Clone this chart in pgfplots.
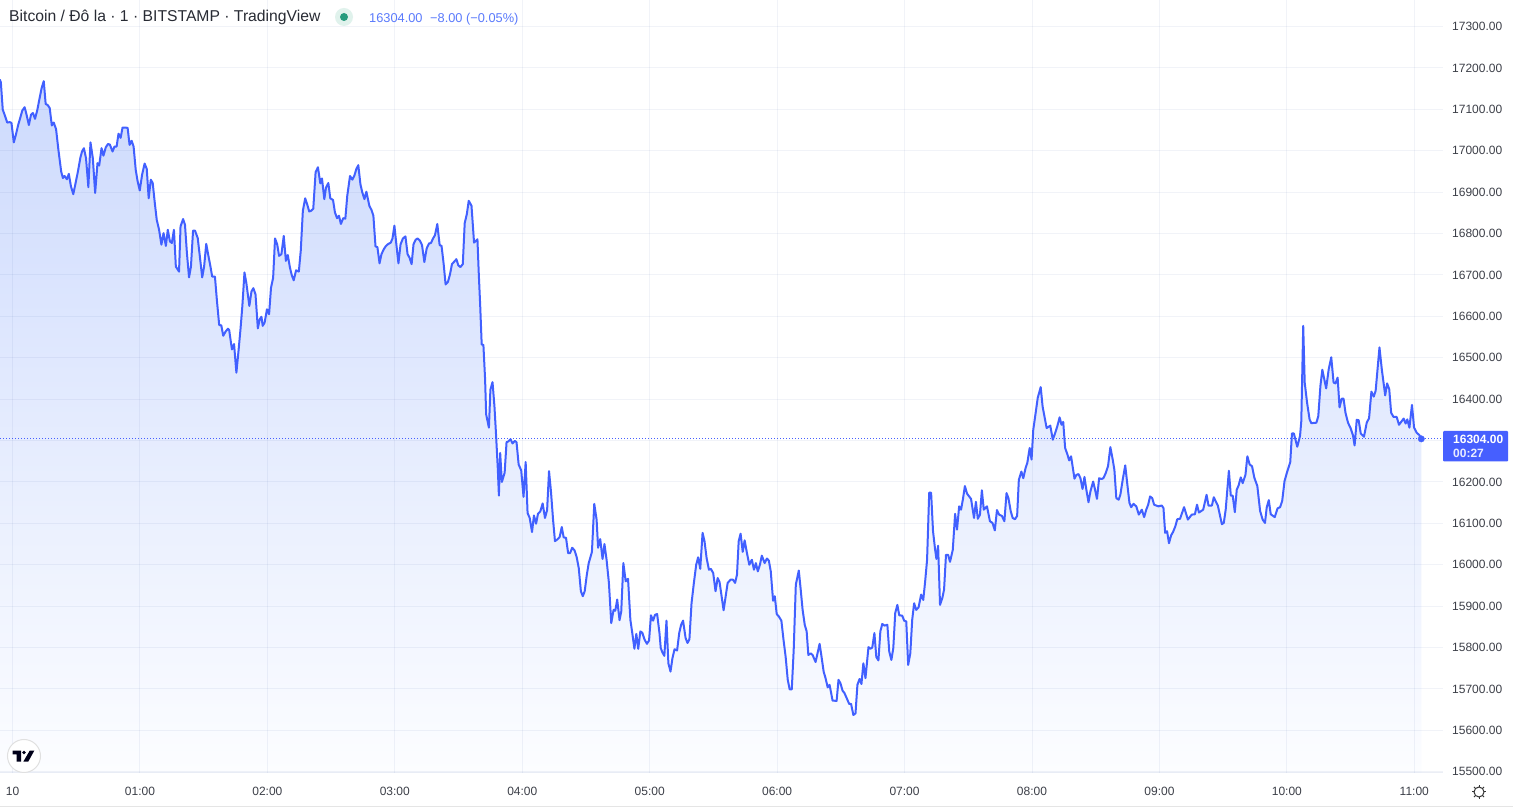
\documentclass[border=0pt]{standalone}
\usepackage{fontspec}
\usepackage{pgfplots}
\usepackage{pgfplotstable}
\pgfplotsset{compat=1.18}
\setmainfont{Liberation Sans}
\definecolor{tvline}{RGB}{65,96,255}
\definecolor{tvtop}{RGB}{205,218,253}
\definecolor{tvbot}{RGB}{252,253,255}
\definecolor{tvgrid}{RGB}{60,90,160}
\definecolor{tvtext}{RGB}{60,63,72}
\definecolor{tvtitle}{RGB}{40,43,52}
\definecolor{tvlabel}{RGB}{70,95,255}
\definecolor{tvval}{RGB}{90,122,252}
\definecolor{tvgreen}{RGB}{38,155,125}
\definecolor{tvhalo}{RGB}{224,242,236}
\pgfplotstableread{
min price
-6 17172
-5.5 17165
-4.6 17099
-3.6 17085
-2.5 17068
-1.3 17069
-.5 17067
.6 17020
1.6 17039
2.7 17063
3.5 17077
4.6 17097
5.7 17105
6.6 17087
7.7 17062
8.7 17087
9.6 17091
10.6 17077
11.7 17099
12.6 17123
13.7 17151
14.7 17168
15.6 17113
16.6 17110
17.5 17103
18.5 17061
19.4 17068
20.5 17052
21.6 17002
22.9 16950
23.7 16934
24.5 16939
25.6 16931
26.5 16944
27.5 16914
28.6 16895
29.7 16922
30.8 16950
31.9 16982
32.7 16998
33.6 17006
34.6 16982
35.7 16912
36.7 17020
37.8 16982
38.9 16898
40 16970
40.8 16964
41.9 17006
42.8 16988
43.9 17008
44.9 17016
45.8 17015
47.1 16998
48 17010
49 17010
49.9 17041
50.9 17031
51.8 17056
52.9 17056
54.2 17055
55.1 17014
56.1 17024
57 17010
58 16954
58.9 16926
59.9 16904
61 16942
62.2 16969
63.2 16956
64.1 16885
65.1 16930
66 16922
67 16873
67.9 16833
69 16809
70.1 16773
71.1 16801
72.2 16770
73.1 16809
74.1 16781
75 16777
76 16809
76.9 16720
78.4 16708
79.1 16817
80.3 16835
81.2 16821
82.1 16753
83.1 16694
84 16720
85 16807
85.9 16807
87.2 16789
88.3 16740
89.3 16694
90.2 16720
91.2 16775
92.3 16744
93.2 16720
94 16696
95.3 16696
96.2 16640
97.3 16579
98.3 16578
99.2 16553
100.3 16563
101.4 16570
102 16567
103.3 16520
104.3 16533
105.4 16464
106.3 16511
107.3 16567
108.2 16624
109.2 16706
110.1 16680
111.5 16625
112.5 16660
113.4 16668
114.4 16653
115.5 16571
116.4 16593
117.2 16599
117.8 16577
118.7 16585
119.8 16617
120.8 16605
121.7 16669
122.7 16693
123.6 16788
124.6 16774
125.5 16746
126.6 16750
127.7 16794
128.7 16734
129.6 16748
130.6 16718
131.5 16699
132.4 16687
133.5 16711
134.8 16708
135.7 16758
136.7 16855
137.8 16885
138.7 16871
139.7 16853
140.6 16855
141.6 16860
142.7 16948
143.8 16960
144.9 16921
145.7 16933
146.8 16883
147.6 16911
148.7 16922
149.6 16885
150.9 16881
151.8 16851
152.8 16837
153.7 16843
154.6 16823
155.7 16837
156.7 16836
157.6 16891
158.9 16939
160 16930
160.9 16939
161.9 16956
162.8 16965
163.8 16919
164.7 16899
165.7 16883
166.6 16901
168 16867
169 16857
169.9 16843
170.9 16769
171.8 16767
172.8 16728
173.7 16750
174.8 16762
175.7 16769
176.7 16774
178.1 16778
178.9 16788
179.8 16819
180.8 16770
181.7 16728
182.7 16774
183.8 16788
185 16793
186 16750
186.9 16742
187.9 16726
188.8 16774
189.8 16785
190.7 16788
191.8 16783
192.8 16772
193.9 16731
195 16764
196.1 16776
197 16777
198 16788
198.9 16796
200 16823
201.1 16772
202 16770
203 16726
203.9 16677
205 16683
206 16702
206.9 16726
209 16738
209.9 16723
210.9 16719
212 16726
212.9 16825
213.9 16847
214.8 16879
216.1 16867
217.3 16778
218.9 16786
219.5 16706
220.2 16625
220.9 16532
221.7 16531
222.5 16448
223 16363
224.3 16331
225 16423
226 16441
226.9 16383
227.7 16310
228.5 16230
229 16167
229.6 16270
230.4 16200
231.7 16222
232.6 16296
233.5 16298
234.5 16303
235.4 16293
236.5 16299
237.3 16296
238.3 16242
239.5 16228
240.6 16164
241.6 16248
242.5 16125
243.5 16113
244.6 16079
245.5 16119
246.5 16099
247.4 16123
248.5 16129
249.6 16148
250.7 16113
251.7 16132
252.6 16226
253.5 16178
254.5 16109
255.4 16057
256.5 16061
257.6 16067
258.6 16091
259.5 16066
260.6 16065
261.6 16028
262.5 16028
263.5 16041
264.6 16035
265.6 16019
266.6 15992
267.6 15936
268.5 15924
269.4 15936
270.4 15976
271.3 16004
272.8 16031
273.9 16147
275 16109
275.7 16041
276.7 16062
277.8 16014
278.7 16050
279.7 16012
280.8 15956
281.9 15859
283 15891
283.8 15889
284.7 15916
285.8 15866
286.6 15887
287.6 16004
288.7 15960
289.8 15966
290.9 15867
291.8 15835
292.8 15797
293.7 15833
294.6 15797
295.6 15839
296.5 15836
297.6 15819
298.7 15809
299.7 15817
300.6 15878
301.6 15865
302.5 15879
303.5 15881
304.6 15835
305.2 15799
306 15788
306.9 15780
307.9 15865
308.8 15762
309.8 15742
310.7 15774
311.7 15796
312.9 15793
313.9 15835
314.8 15855
315.7 15865
316.9 15823
317.8 15811
318.7 15820
319.7 15907
320.8 15956
321.9 16000
322.8 16018
323.8 15990
324.9 16077
325.8 16057
326.8 16016
327.9 15988
328.8 15990
329.9 15980
331 15936
332 15968
332.9 15958
334.8 15890
336.7 15956
338.1 15964
339.2 15964
340.2 15956
341.1 15976
341.9 16057
342.8 16075
343.8 16031
344.7 16059
345.8 16028
346.9 16000
348.1 16012
349.1 15988
350 16004
350.9 15984
351.9 16000
352.8 16022
354.1 16004
355.2 16015
356.1 16010
357 15984
358.1 15913
358.9 15924
359.8 15881
360.8 15875
362 15865
363 15819
364 15778
365 15722
365.9 15699
366.9 15699
367.8 15794
368.8 15952
370.2 15986
371.1 15940
372 15891
373 15855
373.9 15839
374.7 15782
375.8 15786
376.7 15782
378.1 15765
379.1 15788
380 15809
380.9 15778
381.9 15742
382.8 15726
383.8 15704
384.7 15710
386.1 15672
388 15671
388.9 15722
389.8 15714
390.8 15696
391.7 15690
393 15675
393.9 15664
394.8 15664
395.9 15637
396.9 15641
397.8 15710
398.8 15724
399.7 15712
400.6 15762
401.6 15726
403 15801
403.9 15797
404.8 15800
405.8 15835
406.7 15777
407.7 15769
408.6 15839
409.5 15857
410.5 15853
411.9 15855
412.8 15790
413.8 15770
414.7 15799
415.6 15883
416.6 15903
417.5 15878
418.9 15877
419.8 15865
420.8 15863
421.7 15758
422.7 15786
423.6 15867
424.5 15907
425.5 15891
426.6 15897
427.8 15928
428.8 15915
429.7 15960
430.6 16012
431.6 16174
432.5 16174
433.4 16081
434.4 16036
435 16014
435.8 16046
436.7 15903
437.8 15920
438.6 15940
439.5 16024
440.5 16024
441.4 16007
442.7 16036
443.8 16123
444.7 16085
445.7 16141
446.6 16133
447.5 16159
448.4 16190
449.4 16172
451.3 16159
452.7 16113
453.6 16152
454.5 16111
455.5 16121
456.4 16180
457.3 16133
458.8 16141
460.2 16105
461.4 16101
462.5 16083
463.5 16132
464.5 16121
465.8 16118
467 16105
468 16173
468.9 16161
470 16129
470.9 16113
472 16110
473 16118
473.8 16205
475 16225
475.9 16209
477 16234
477.8 16246
478.9 16282
479.8 16254
480.6 16326
481.7 16366
482.7 16403
484.1 16429
485 16382
486.9 16330
488.6 16336
489.8 16302
490.9 16318
491.9 16334
493 16356
493.9 16338
494.7 16345
495.6 16282
496.7 16266
497.5 16252
498.4 16262
500 16208
500.9 16217
501.9 16219
502.8 16209
503.8 16183
504.7 16212
505.6 16181
506.6 16151
507.5 16177
508.8 16201
509.7 16181
510.6 16159
511.6 16209
512.7 16207
513.6 16209
514.7 16221
515.8 16238
516.9 16284
518 16254
518.8 16229
519.7 16161
520.8 16157
521.6 16169
522.7 16205
523.9 16240
525 16189
525.9 16149
526.7 16139
527.8 16147
529.1 16141
530.3 16121
531.7 16133
532.8 16115
533.8 16133
534.7 16145
535.6 16165
536.6 16161
537.5 16145
539.5 16141
541.1 16143
541.9 16137
542.7 16077
543.6 16081
544.5 16052
545.5 16071
546.4 16079
547.5 16093
548.4 16110
549.7 16111
551.6 16139
553.4 16109
555.2 16121
556.7 16122
557.7 16145
558.6 16126
560.6 16133
562.2 16169
563.1 16143
564.7 16143
565.6 16163
566.9 16149
567.5 16143
569.4 16098
570.3 16101
571.2 16133
572.7 16227
573.6 16167
574.5 16167
575.5 16127
576.4 16181
577.3 16192
578.3 16211
579.2 16197
580.5 16217
581.4 16262
582.5 16242
583.6 16238
584.7 16210
586.1 16190
587.4 16130
588.6 16109
589.7 16101
590.5 16138
591.5 16156
592.4 16122
594.3 16115
595.6 16136
596.8 16139
597.8 16154
598.9 16202
600 16222
601.6 16248
602.4 16317
603.3 16317
604.9 16285
606.2 16311
606.8 16347
607.7 16577
608.4 16440
609.5 16392
610.7 16351
611.5 16342
613.9 16343
614.8 16359
615.8 16432
616.7 16471
618.5 16426
619.7 16472
620.9 16501
622 16440
622.9 16438
623.9 16452
624.8 16380
625.8 16401
626.7 16401
627.6 16367
628.8 16343
630 16330
631.1 16313
631.9 16288
632.9 16350
633.8 16349
634.8 16317
636.3 16309
637.6 16343
638.7 16354
639.8 16418
640.9 16406
641.8 16420
643.6 16525
644.7 16472
646.3 16409
647.2 16438
648.2 16424
649.1 16367
650.2 16357
651.7 16357
652.8 16338
655 16353
655.9 16341
656.7 16351
657.7 16331
658.9 16386
659.9 16331
661.1 16319
662.4 16313
663.3 16304
}\pricedata
\begin{document}
\begin{tikzpicture}[x=1pt,y=1pt]
\path[use as bounding box,fill=white] (0,0) rectangle (1513,808);
\begin{axis}[
  at={(0pt,35pt)},anchor=south west,scale only axis,
  width=1443pt,height=773pt,
  xmin=-5.9,xmax=673.5,ymin=15497,ymax=17364,
  axis on top,
  axis line style={draw=none},
  scaled y ticks=false,
  xtick={0,60,120,180,240,300,360,420,480,540,600,660},
  xticklabels={10,01:00,02:00,03:00,04:00,05:00,06:00,07:00,08:00,09:00,10:00,11:00},
  ytick={15500,15600,15700,15800,15900,16000,16100,16200,16300,16400,16500,16600,16700,16800,16900,17000,17100,17200,17300},
  yticklabels={15500.00,15600.00,15700.00,15800.00,15900.00,16000.00,16100.00,16200.00,,16400.00,16500.00,16600.00,16700.00,16800.00,16900.00,17000.00,17100.00,17200.00,17300.00},
  yticklabel pos=right,
  tick style={draw=none},
  major tick length=0pt,
  grid=major,
  grid style={draw=tvgrid,draw opacity=0.07,line width=1pt},
  xticklabel style={font=\fontsize{12}{14}\selectfont,text=tvtext,yshift=-11pt},
  yticklabel style={font=\fontsize{12}{14}\selectfont,text=tvtext,anchor=east,xshift=62.8pt},
  clip=true,
]
\addplot[draw=none,top color=tvtop,bottom color=tvbot,forget plot] table[x=min,y=price]{\pricedata} \closedcycle;
\addplot[tvlabel,dotted,line width=1pt,forget plot] coordinates {(-5.9,16304) (673.5,16304)};
\addplot[tvline,line width=2pt,line join=round,forget plot] table[x=min,y=price]{\pricedata};
\addplot[only marks,mark=*,mark size=3.2pt,mark options={fill=tvline,draw=tvline},forget plot] coordinates {(663.3,16304)};
\end{axis}
% frame lines
\draw[draw=black!13,line width=1pt] (0,808) -- (1513,808);
\draw[draw=black!10,line width=1pt] (0,1.5) -- (1513,1.5);
\draw[draw=tvgrid,draw opacity=0.1,line width=1pt] (0,35) -- (1443,35);
% title
\node[anchor=base west,inner sep=0,text=tvtitle,font=\fontsize{15.7}{18}\selectfont] at (9,786) {Bitcoin / Đô la · 1 · BITSTAMP · TradingView};
\fill[tvhalo] (344,791) circle (9);
\fill[tvgreen] (344,791) circle (4);
\node[anchor=base west,inner sep=0,text=tvval,font=\fontsize{12.8}{14}\selectfont] at (369,785) {16304.00};
\node[anchor=base west,inner sep=0,text=tvval,font=\fontsize{12.8}{14}\selectfont] at (430,785) {−8.00 (−0.05\%)};
% price label
\fill[tvlabel,rounded corners=1pt] (1443,377) rectangle (1508,346.5);
\node[anchor=base west,inner sep=0,text=white,font=\fontsize{12}{14}\bfseries\selectfont] at (1453,364) {16304.00};
\node[anchor=base west,inner sep=0,text=white!88!tvlabel,font=\fontsize{12}{14}\bfseries\selectfont] at (1453,350) {00:27};
% logo
\fill[white] (24,52) circle (16.5);
\draw[black!12,line width=1pt] (24,52) circle (16.5);
\fill[black!90!blue] (12.7,57.3) -- (21,57.3) -- (21,46.3) -- (16.7,46.3) -- (16.7,53.6) -- (12.7,53.6) -- cycle;
\fill[black!90!blue] (24,55.5) circle (1.8);
\fill[black!90!blue] (29.7,57.3) -- (34.3,57.3) -- (28.2,46.3) -- (23.3,46.3) -- cycle;
% sun icon
\draw[black!80,line width=1pt] (1479,16) circle (5);
\foreach \a in {0,45,...,315}{\draw[black!80,line width=1pt] (1479,16) ++(\a:5) -- ++(\a:2.2);}
\end{tikzpicture}
\end{document}
